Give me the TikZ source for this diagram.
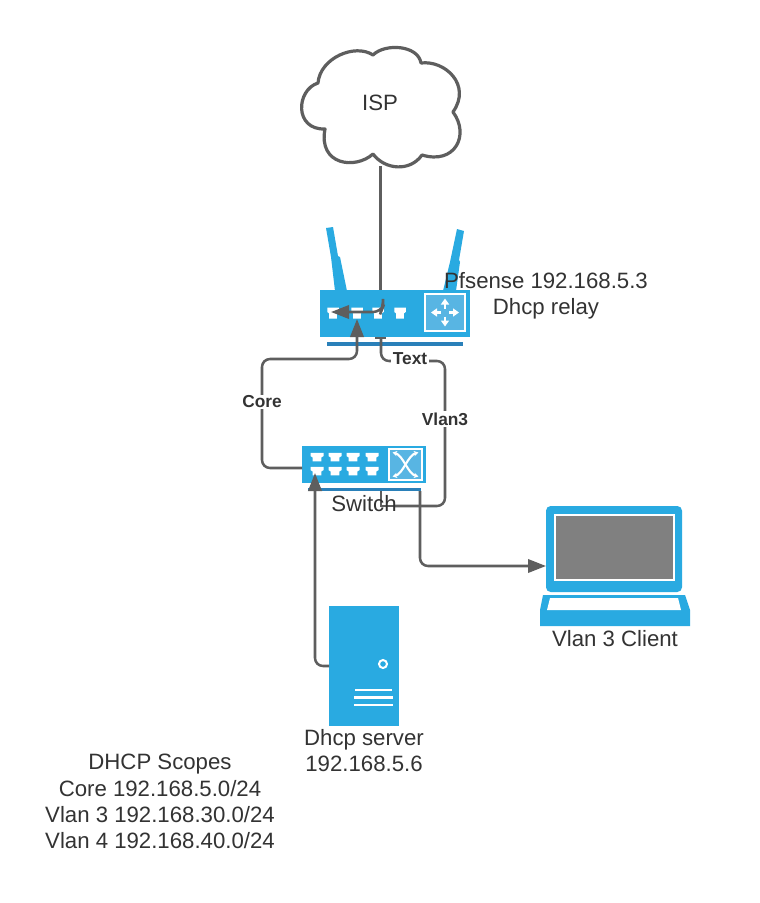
\documentclass[tikz,border=0pt]{standalone}
\usepackage{fontspec}
\setmainfont{Liberation Sans}
\usetikzlibrary{arrows.meta}
\definecolor{devblue}{HTML}{29AAE1}
\definecolor{devbar}{HTML}{2A80B9}
\definecolor{panelblue}{HTML}{58B5E3}
\definecolor{wire}{HTML}{5E5E5E}
\definecolor{inktext}{HTML}{333333}
\newcommand{\portshape}[4]{% x y w h
  \fill[white] (#1-#3/2,#2-#4/2) -- (#1+#3/2,#2-#4/2) -- (#1+#3/2,#2-#4/2+#4*.4) -- (#1+#3*.33,#2-#4/2+#4*.55) -- (#1+#3*.33,#2+#4/2) -- (#1-#3*.33,#2+#4/2) -- (#1-#3*.33,#2-#4/2+#4*.55) -- (#1-#3/2,#2-#4/2+#4*.4) -- cycle;}
\tikzset{
  x=.75pt,y=-.75pt,
  body/.style={fill=devblue,draw=none,inner sep=0pt,outer sep=0pt,rectangle},
  barpart/.style={fill=devbar,draw=none},
  panel/.style={fill=panelblue,draw=white,line width=.9pt},
  wireline/.style={draw=wire,line width=1.9pt,rounded corners=6pt},
  thinwire/.style={draw=wire,line width=.8pt},
  tip/.style={-{Triangle[length=13.5pt,width=10pt,color=wire]}},
  plain/.style={text=inktext,font=\fontsize{16.65}{19.7}\selectfont,align=center,inner sep=0pt},
  wirelabel/.style={text=inktext,font=\fontsize{13}{15}\selectfont\bfseries,fill=white,inner sep=1pt},
  cloudline/.style={draw=wire,line width=2.4pt,fill=white,line join=round},
  glyph/.style={white,line width=1.7pt,-{Triangle[length=4.5pt,width=6pt]}},
  glyphx/.style={white,line width=1.6pt,{Stealth[length=3.5pt,width=4pt]}-{Stealth[length=3.5pt,width=4pt]}},
}
\begin{document}
\begin{tikzpicture}
\useasboundingbox (0,0) rectangle (760,903);
\fill[white] (0,0) rectangle (760,903);
% cloud
\draw[cloudline] (318,83) .. controls (320,58) and (355,43) .. (373,55)
  .. controls (385,43) and (418,45) .. (421,63)
  .. controls (445,60) and (472,85) .. (453,112)
  .. controls (470,135) and (455,165) .. (422,155)
  .. controls (410,172) and (385,170) .. (373,154)
  .. controls (355,170) and (318,165) .. (325,129)
  .. controls (294,130) and (296,90) .. (318,83) -- cycle;
\node[plain] (isp) at (380,103) {ISP};
\coordinate (cloudbottom) at (380.7,166);
% antennas
\fill[devblue,line join=round] (326,228) -- (333,227) -- (338,256) -- (340,257) -- (347,291) -- (335,291) -- (331,257) -- cycle;
\fill[devblue] (457,229) -- (464,231) -- (459,260) -- (460,262) -- (456,291) -- (443,291) -- (450,262) -- cycle;
% router
\node[body,minimum width=150*.75pt,minimum height=47*.75pt] (router) at (395,313.5) {};
\fill[barpart] (327,342) rectangle (463,346);
\draw[panel] (425,294) rectangle (465,331);
\foreach \dx/\dy in {0/-1,0/1,-1/0,1/0}{
  \draw[glyph] (445+\dx*4,312.5+\dy*4) -- (445+\dx*14,312.5+\dy*14);
}
\portshape{333}{313}{11.5}{11}
\portshape{357}{313}{11.5}{11}
\portshape{378}{313}{11.5}{11}
\portshape{400}{313}{11.5}{11}
% switch
\node[body,minimum width=124*.75pt,minimum height=37*.75pt] (switch) at (364,464.5) {};
\fill[barpart] (308,488) rectangle (421,491);
\draw[panel] (389,449) rectangle (422,480);
\draw[glyphx] (392.5,452.5) .. controls (403,455) and (408,474) .. (418.5,476.5);
\draw[glyphx] (392.5,476.5) .. controls (403,474) and (408,455) .. (418.5,452.5);
\foreach \px in {317,335,353,372}{
  \portshape{\px}{457}{13}{8.5}
  \portshape{\px}{471}{13}{8.5}
}
% server
\node[body,minimum width=70*.75pt,minimum height=120*.75pt] (server) at (364,666) {};
\draw[white,line width=1.5pt] (383,664) circle[radius=4];
\draw[white,line width=1.3pt] (355,690) -- (392,690);
\draw[white,line width=1.8pt] (354,697.5) -- (393,697.5);
\draw[white,line width=1.8pt] (354,705) -- (393,705);
% laptop
\node[body,rounded corners=3.5pt,minimum width=136*.75pt,minimum height=86*.75pt] (laptop) at (614,549) {};
\fill[draw=white,line width=1.2pt,fill=black!50] (555,515) rectangle (674,580);
\fill[devblue] (543,595) -- (685,595) -- (690,610) -- (690,626) -- (540,626) -- (540,610) -- cycle;
\fill[white] (550,598) -- (678,598) -- (681,610) -- (547,610) -- cycle;
% connectors
\coordinate (vlanstub) at (381,338);
\coordinate (switchdrop) at (381,491);
\coordinate (routerportA) at (331,312);
\coordinate (routerportB) at (357,319);
\coordinate (switchport) at (315,473);
\coordinate (switchout) at (420,491);
\draw[wireline] (cloudbottom) -- (router.north -| cloudbottom);
\draw[wireline,tip] (383,305) -- (383,307) -- (381,312) -- (routerportA);
\draw[wireline,tip] (switch.west |- 0,468) -- (262,468) -- (262,359) -- (357,359) -- (routerportB);
\draw[draw=wire,line width=1.8pt] (375,338) -- (386,338);
\draw[wireline] (vlanstub) -- (381,361) -- (445,361) -- (445,506) -- (395,506);
\draw[thinwire] (395,506) -- (381,506) -- (switchdrop);
\draw[wireline,tip] (switchout) -- (420,566) -- (laptop.west |- 0,566);
\draw[wireline,tip] (server.west |- 0,666) -- (315,666) -- (switchport);
% labels
\node[wirelabel] (corelabel) at (262,402) {Core};
\node[wirelabel] (textlabel) at (410,359) {Text};
\node[wirelabel] (vlanlabel) at (445,419) {Vlan3};
\node[plain] (routername) at (546,296) {Pfsense 192.168.5.3\\Dhcp relay};
\node[plain] (switchname) at (364,504) {Switch};
\node[plain] (laptopname) at (615,639) {Vlan 3 Client};
\node[plain] (servername) at (364,750.5) {Dhcp server\\192.168.5.6};
\node[plain] (scopes) at (160,801.5) {DHCP Scopes\\Core 192.168.5.0/24\\Vlan 3 192.168.30.0/24\\Vlan 4 192.168.40.0/24};
\end{tikzpicture}
\end{document}
